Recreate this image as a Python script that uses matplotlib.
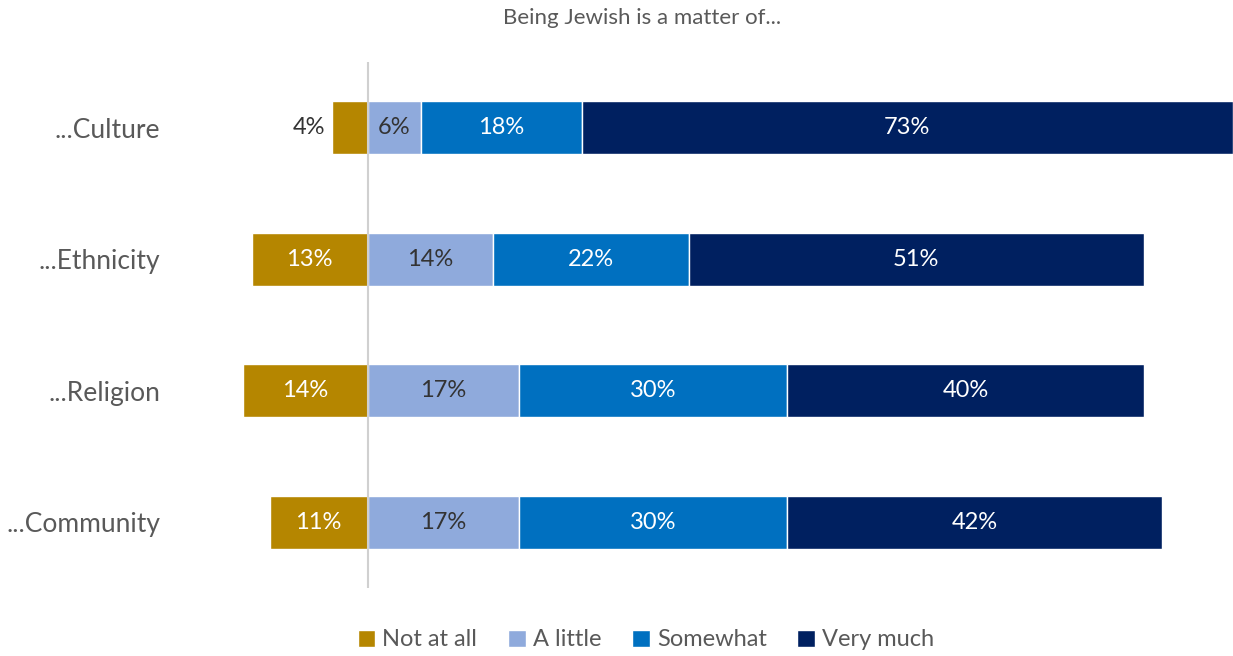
import matplotlib.pyplot as plt
from matplotlib.patches import Patch

plt.rcParams['font.family'] = ['Lato', 'DejaVu Sans']

categories = ["...Culture", "...Ethnicity", "...Religion", "...Community"]
not_at_all = [4, 13, 14, 11]
a_little = [6, 14, 17, 17]
somewhat = [18, 22, 30, 30]
very_much = [73, 51, 40, 42]

series_names = ["Not at all", "A little", "Somewhat", "Very much"]
colors = ["#B58600", "#8FAADC", "#0070C0", "#002060"]
text_colors = ["white", "#333333", "white", "white"]

fig = plt.figure(figsize=(12.33, 6.56), dpi=100)
ax = fig.add_axes([171.5 / 1233, 1 - 588 / 656, 1 - 171.5 / 1233, 526 / 656])

y = list(range(len(categories)))
bar_h = 0.40

# negative side: "Not at all"
ax.barh(y, [-v for v in not_at_all], height=bar_h, color=colors[0],
        edgecolor="white", linewidth=1, zorder=2)
for yi, v in zip(y, not_at_all):
    if v < 5:
        ax.text(-v - 0.8, yi, f"{v}%", ha="right", va="center",
                fontsize=17, color="#333333")
    else:
        ax.text(-v / 2, yi, f"{v}%", ha="center", va="center",
                fontsize=17, color="white")

# positive side stacked
left = [0] * len(categories)
for vals, c, tc in zip([a_little, somewhat, very_much], colors[1:], text_colors[1:]):
    ax.barh(y, vals, left=left, height=bar_h, color=c,
            edgecolor="white", linewidth=1, zorder=2)
    for yi, l, v in zip(y, left, vals):
        ax.text(l + v / 2, yi, f"{v}%", ha="center", va="center",
                fontsize=17, color=tc)
    left = [l + v for l, v in zip(left, vals)]

ax.axvline(0, color="#D0D0D0", linewidth=1.5, zorder=3)

ax.set_xlim(-22, 97)
ax.set_ylim(3.5, -0.5)
ax.set_yticks(y)
ax.set_yticklabels(categories, fontsize=19, color="#595959")
ax.tick_params(axis="y", length=0, pad=8)
ax.set_xticks([])
for s in ax.spines.values():
    s.set_visible(False)

fig.text(642 / 1233, 1 - 18 / 656, "Being Jewish is a matter of...",
         ha="center", va="center", fontsize=16, color="#595959")

handles = [Patch(facecolor=c, edgecolor="white") for c in colors]
fig.legend(handles, series_names, loc="center", ncol=4,
           bbox_to_anchor=(646 / 1233, 1 - 640 / 656), frameon=False,
           fontsize=17, labelcolor="#595959", handlelength=0.75,
           handleheight=0.75, handletextpad=0.3, columnspacing=1.3)

fig.savefig("out.png", dpi=100)
